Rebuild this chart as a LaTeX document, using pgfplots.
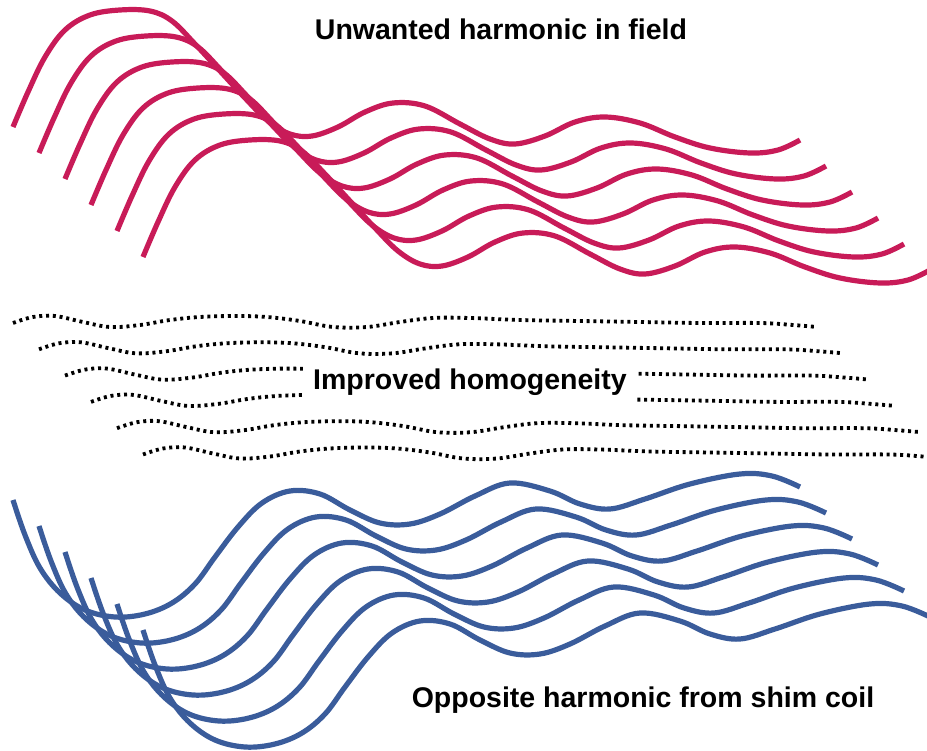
\documentclass[border=0pt]{standalone}
\usepackage{fontspec}
\setmainfont{Liberation Sans}
\usepackage{pgfplots}
\usepackage{pgfplotstable}
\pgfplotsset{compat=1.18}
\definecolor{redc}{HTML}{C81B58}
\definecolor{bluec}{HTML}{3A5C9B}

\pgfplotstableread{
x y
13 127
28 92
45 57
65 30
90 15
120 10
150 11
172 21
195 44
220 71
245 98
268 121
290 134
312 136
338 127
365 112
393 103
425 106
460 124
490 139
515 144
545 136
575 122
605 117
640 123
675 137
710 148
750 153
778 150
800 140
}\redbase

\pgfplotstableread{
x y
13 500
25 535
40 568
60 593
85 610
115 617
145 614
172 603
195 584
215 557
238 527
262 503
290 491
320 494
350 510
380 523
410 524
440 514
475 496
510 483
550 491
580 504
610 509
645 499
690 484
740 474
772 476
800 487
}\bluebase

\pgfplotstableread{
x y
13 323
33 317
55 316
83 322
110 327
140 325
170 320
200 317
235 316
267 317
300 321
333 327
367 327
400 322
433 318
470 318
520 320
580 321
640 322
700 323
760 323
793 325
817 327
}\dotbase

\begin{document}
\begin{tikzpicture}
\begin{axis}[hide axis, scale only axis, width=927pt, height=751pt,
  xmin=0, xmax=927, ymin=0, ymax=751, y dir=reverse, clip=false]
\pgfplotsinvokeforeach{0,...,5}{
  \addplot[redc, line width=5.2pt, smooth, tension=0.6, mark=none]
    table[x expr=\thisrow{x}+26*#1, y expr=\thisrow{y}+26*#1] {\redbase};
}
\pgfplotsinvokeforeach{0,...,5}{
  \addplot[black, line width=3.8pt, dash pattern=on 3pt off 3.8pt, smooth, tension=0.6, mark=none]
    table[x expr=\thisrow{x}+26*#1, y expr=\thisrow{y}+26.3*#1] {\dotbase};
}
\pgfplotsinvokeforeach{0,...,5}{
  \addplot[bluec, line width=5.2pt, smooth, tension=0.6, mark=none]
    table[x expr=\thisrow{x}+26*#1, y expr=\thisrow{y}+26*#1] {\bluebase};
}
\node[anchor=base, font=\fontsize{28.5}{34}\selectfont\bfseries] at (axis cs:501,40) {Unwanted harmonic in field};
\node[anchor=base, fill=white, text height=22pt, text depth=15pt, inner xsep=10pt, inner ysep=5pt,
  font=\fontsize{28.5}{34}\selectfont\bfseries] at (axis cs:470,390) {Improved homogeneity};
\node[anchor=base, font=\fontsize{28.5}{34}\selectfont\bfseries] at (axis cs:643,707) {Opposite harmonic from shim coil};
\end{axis}
\pgfresetboundingbox
\path (current axis.south west) rectangle (current axis.north east);
\end{tikzpicture}
\end{document}
